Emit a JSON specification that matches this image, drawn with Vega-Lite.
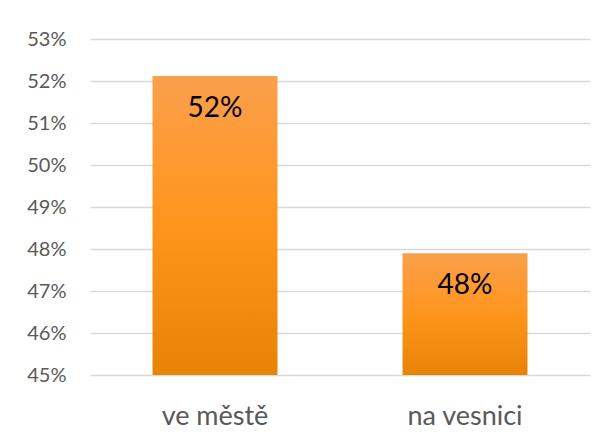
{
  "$schema": "https://vega.github.io/schema/vega-lite/v6.json",
  "autosize": "none",
  "width": 500,
  "height": 336,
  "padding": {"left": 90, "top": 39, "right": 19, "bottom": 68},
  "background": "white",
  "config": {"view": {"stroke": null}, "font": "Lato"},
  "data": {"values": [
    {"misto": "ve městě", "podil": 0.5212},
    {"misto": "na vesnici", "podil": 0.479}
  ]},
  "encoding": {
    "x": {"field": "misto", "type": "nominal", "sort": null,
      "scale": {"paddingInner": 0.5, "paddingOuter": 0.25},
      "axis": {"title": null, "labelAngle": 0, "labelFontSize": 27, "labelColor": "#595959", "labelPadding": 28, "domain": false, "ticks": false, "labelFont": "Lato"}},
    "y": {"field": "podil", "type": "quantitative",
      "scale": {"domain": [0.45, 0.53], "zero": false, "nice": false},
      "axis": {"title": null, "format": ".0%", "values": [0.45, 0.46, 0.47, 0.48, 0.49, 0.5, 0.51, 0.52, 0.53], "labelFontSize": 20, "labelColor": "#595959", "labelPadding": 24, "domain": false, "ticks": false, "gridColor": "#D9D9D9", "gridWidth": 1.3, "labelFont": "Lato"}}
  },
  "layer": [
    {"mark": {"type": "bar", "color": {"gradient": "linear", "x1": 0, "y1": 0, "x2": 0, "y2": 1,
      "stops": [{"offset": 0, "color": "#FA9F4C"}, {"offset": 0.5, "color": "#FF951C"}, {"offset": 1, "color": "#E78305"}]}},
      "encoding": {"y2": {"datum": 0.45}}},
    {"mark": {"type": "text", "dy": 33, "baseline": "middle", "fontSize": 28, "color": "#000000", "font": "Lato"},
      "encoding": {"text": {"field": "podil", "type": "quantitative", "format": ".0%"}}}
  ]
}
